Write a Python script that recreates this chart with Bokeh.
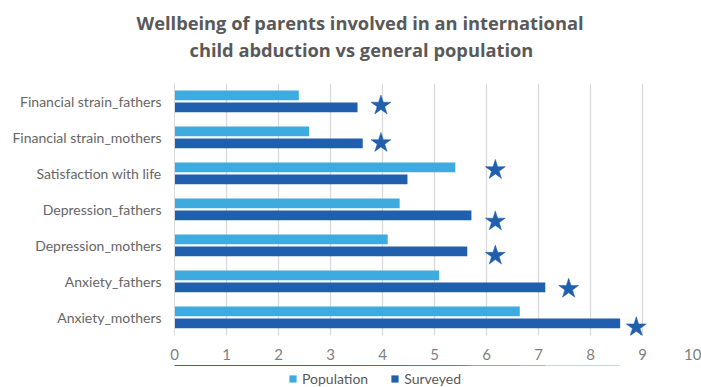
import numpy as np
from bokeh.plotting import figure
from bokeh.layouts import column
from bokeh.models import (ColumnDataSource, Range1d, FixedTicker, Title, Legend, LegendItem)
from bokeh.embed import file_html
from bokeh.resources import INLINE

categories = ["Financial strain_fathers", "Financial strain_mothers", "Satisfaction with life",
              "Depression_fathers", "Depression_mothers", "Anxiety_fathers", "Anxiety_mothers"]
population = [2.39, 2.59, 5.40, 4.33, 4.10, 5.09, 6.64]
surveyed = [3.52, 3.62, 4.48, 5.71, 5.63, 7.13, 8.57]
star_x = [3.97, 3.97, 6.17, 6.17, 6.17, 7.58, 8.88]
star_y = [5.89, 4.85, 4.10, 2.67, 1.72, 0.80, -0.27]
x_ticks = [0, 1, 2, 3, 4, 5, 6, 7, 8, 9, 10]
series_names = ["Population", "Surveyed"]

title1 = "Wellbeing of parents involved in an international"
title2 = "child abduction vs general population"

POP_C = "#3DAAE0"
SUR_C = "#1F5FAD"
FONT = "Lato"
TFONT = "Open Sans"
W = 701

n = len(categories)
ypos = np.arange(n)[::-1].astype(float)

src = ColumnDataSource(dict(
    cat=categories,
    y_pop=ypos + 0.17,
    y_sur=ypos - 0.165,
    pop=population,
    sur=surveyed,
))
star_src = ColumnDataSource(dict(x=star_x, y=star_y))


def blank(h, top=0):
    f = figure(width=W, height=h, output_backend="svg", toolbar_location=None,
               x_axis_type=None, y_axis_type=None, min_border=0,
               min_border_top=top, min_border_left=174, min_border_right=7,
               x_range=Range1d(0, 10), y_range=Range1d(-30, -20))
    f.outline_line_color = None
    f.background_fill_color = "white"
    f.border_fill_color = "white"
    return f


# ---- title strip ----
pt = blank(70, top=61)
t2 = Title(text=title2, align="left", offset=15, text_font=TFONT, text_font_size="18.3px",
           text_font_style="bold", text_color="#595959", standoff=0)
t1 = Title(text=title1, align="left", offset=-38, text_font=TFONT, text_font_size="18.3px",
           text_font_style="bold", text_color="#595959", standoff=0)
pt.add_layout(t2, "above")
pt.add_layout(t1, "above")

# ---- main chart ----
p = figure(width=W, height=295, output_backend="svg", toolbar_location=None,
           x_range=Range1d(0, 10), y_range=Range1d(-0.5, n - 0.5),
           min_border_left=174, min_border_right=7, min_border_bottom=30,
           min_border_top=13, title=None)
p.outline_line_color = None
p.background_fill_color = "white"
p.border_fill_color = "white"

p.hbar(y="y_pop", left=0, right="pop", height=0.27, source=src,
       fill_color=POP_C, line_color=None)
p.hbar(y="y_sur", left=0, right="sur", height=0.27, source=src,
       fill_color=SUR_C, line_color=None)
p.scatter(x="x", y="y", source=star_src, marker="star", size=21,
          fill_color=SUR_C, line_color=SUR_C, line_width=0.5)

p.xaxis.ticker = FixedTicker(ticks=x_ticks)
p.xaxis.axis_line_color = None
p.xaxis.major_tick_line_color = None
p.xaxis.minor_tick_line_color = None
p.xaxis.major_label_text_font = FONT
p.xaxis.major_label_text_font_size = "15px"
p.xaxis.major_label_text_color = "#7F7F7F"
p.xaxis.major_label_standoff = 7

p.yaxis.ticker = FixedTicker(ticks=list(ypos))
p.yaxis.major_label_overrides = {float(v): c for v, c in zip(ypos, categories)}
p.yaxis.axis_line_color = "#D9D9D9"
p.yaxis.major_tick_line_color = None
p.yaxis.minor_tick_line_color = None
p.yaxis.major_label_text_font = FONT
p.yaxis.major_label_text_font_size = "14px"
p.yaxis.major_label_text_color = "#666666"
p.yaxis.major_label_standoff = 7

p.xgrid.grid_line_color = "#D9D9D9"
p.xgrid.grid_line_width = 1.3
p.ygrid.grid_line_color = None

# ---- legend strip (same data, out of view; only the legend shows) ----
pl = blank(22)
lg_pop = pl.hbar(y="y_pop", left=0, right="pop", height=0.27, source=src,
                 fill_color=POP_C, line_color=None)
lg_sur = pl.hbar(y="y_sur", left=0, right="sur", height=0.27, source=src,
                 fill_color=SUR_C, line_color=None)
legend = Legend(items=[LegendItem(label=series_names[0], renderers=[lg_pop]),
                       LegendItem(label=series_names[1], renderers=[lg_sur])],
                orientation="horizontal", location=(114, 0),
                glyph_width=9, glyph_height=9, label_standoff=5, spacing=22,
                padding=0, margin=0, label_height=16,
                label_text_font=FONT, label_text_font_size="14px",
                label_text_color="#595959",
                border_line_color=None, background_fill_alpha=0)
pl.add_layout(legend, "center")

layout = column(pt, p, pl, spacing=0)
open("out.html", "w").write(file_html(layout, INLINE))
